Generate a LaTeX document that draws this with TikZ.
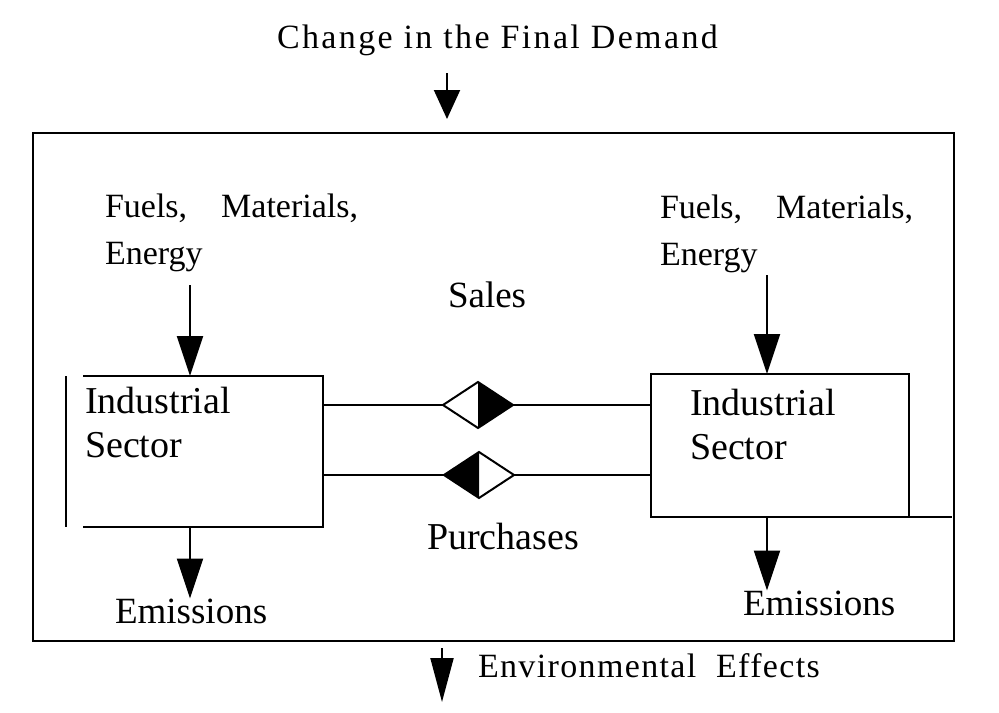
\documentclass[tikz,border=0pt]{standalone}
\usepackage{fontspec}
\setmainfont{Liberation Serif}
\newfontfamily\spacedserif[LetterSpace=7]{Liberation Serif}
\newfontfamily\looseserif[LetterSpace=4]{Liberation Serif}
\usepackage{tikz}
\usetikzlibrary{positioning,arrows.meta,calc,shapes.geometric}

\begin{document}
\begin{tikzpicture}[x=0.5pt,y=-0.5pt,
  every node/.style={inner sep=0pt,outer sep=0pt},
  arr/.style={line width=1pt,-{Triangle[width=13pt,length=20pt]}},
  link/.style={line width=1.2pt},
  boxline/.style={line width=1pt},
  sector/.style={rectangle,minimum width=#1},
  lbl/.style={font=\fontsize{18.5}{22}\selectfont},
  fuel/.style={align=left,font=\fontsize{17}{23.5}\selectfont},
  sectext/.style={align=left,font=\fontsize{19}{22}\selectfont},
  headline/.style={font=\spacedserif\fontsize{17}{20}\selectfont},
  valve/.style={diamond,draw,line width=1pt,minimum width=35pt,minimum height=23pt}]
\useasboundingbox (0,0) rectangle (999,712);

% outer frame and texts around it
\node[draw,line width=1.3pt,minimum width=460.5pt,minimum height=254pt] (frame) at (493.5,387) {};
\node[headline,anchor=base west] (demand) at (277,48) {Change in the Final Demand};
\node[headline,font=\looseserif\fontsize{17}{20}\selectfont,anchor=base west] (effects) at (478,677) {Environmental\ \ Effects};
\coordinate (demin) at (447,73);
\coordinate (effout) at (442,702);
\draw[line width=1pt,-{Triangle[width=13pt,length=14.5pt]},shorten >=7pt] (demin) -- (demin |- frame.north);
\draw[line width=1pt,-{Triangle[width=11.5pt,length=22pt]},shorten <=3.5pt] (effout |- frame.south) -- (effout);

% the two sectors
\node[sector=120pt,minimum height=75.5pt] (lsec) at (203,451.5) {};
\draw[boxline] (lsec.north west) -| (lsec.south east) -- (lsec.south west);
\draw[boxline] ([xshift=-8.5pt]lsec.north west) -- ([xshift=-8.5pt]lsec.south west);
\node[sectext,anchor=north west] (ltxt) at ([shift={(2,11)}]lsec.north west) {Industrial\\Sector};

\node[sector=129pt,minimum height=71.5pt,draw,line width=1pt] (rsec) at (780,445.5) {};
\node[sectext,anchor=north west] (rtxt) at ([shift={(39,15)}]rsec.north west) {Industrial\\Sector};
\coordinate (rtail) at (952,517);
\draw[boxline] (rsec.south east) -- (rtail);

% inputs and emissions
\node[fuel,anchor=north west] (lfuel) at (105,194) {Fuels,\quad Materials,\\Energy};
\node[fuel,anchor=north west] (rfuel) at (660,195) {Fuels,\quad Materials,\\Energy};
\coordinate (lin) at (190,285);
\coordinate (rin) at (767,275);
\draw[arr] (lin) -- (lin |- lsec.north);
\draw[arr] (rin) -- (rin |- rsec.north);

\node[lbl,anchor=base west] (lemis) at (115,623) {Emissions};
\node[lbl,anchor=base west] (remis) at (743,615) {Emissions};
\draw[arr] (lin |- lsec.south) -- (lin |- lemis.north);
\draw[arr] (rin |- rsec.south) -- (rin |- remis.north);

% sales and purchases
\node[valve] (sdia) at (478,405) {};
\fill (sdia.north) -- (sdia.east) -- (sdia.south) -- cycle;
\node[valve] (pdia) at (479,475) {};
\fill (pdia.north) -- (pdia.west) -- (pdia.south) -- cycle;
\draw[link] (lsec.east |- sdia) -- (sdia.west);
\draw[link] (sdia.east) -- (rsec.west |- sdia);
\draw[link] (lsec.east |- pdia) -- (pdia.west);
\draw[link] (pdia.east) -- (rsec.west |- pdia);
\node[lbl,anchor=base west] (sales) at (448,307) {Sales};
\node[lbl,anchor=base west,font=\fontsize{19}{22}\selectfont] (purch) at (427,549) {Purchases};
\end{tikzpicture}
\end{document}
